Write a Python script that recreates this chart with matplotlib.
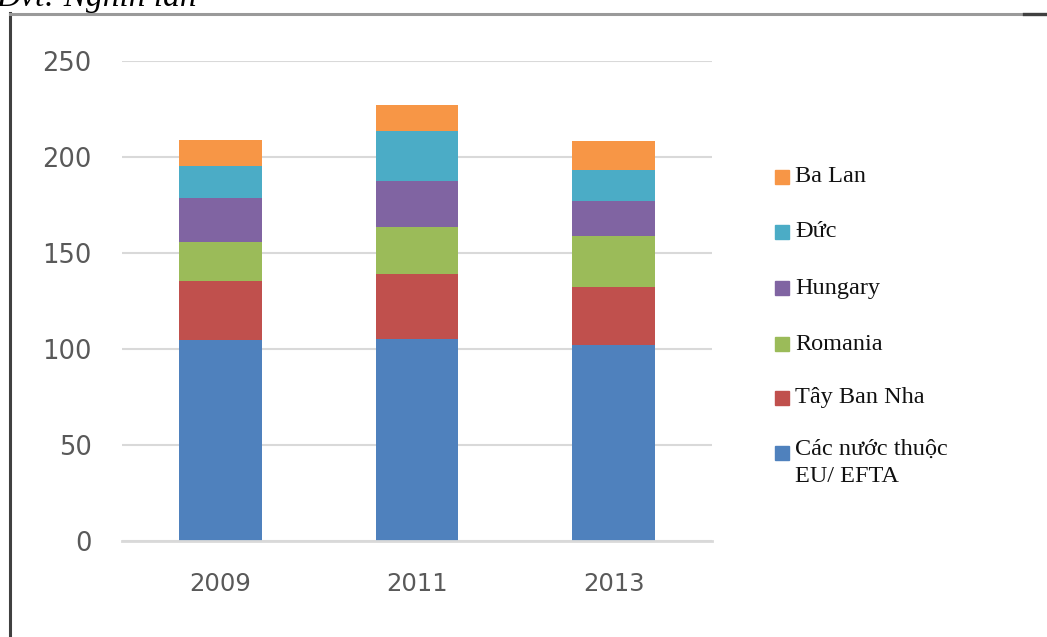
import matplotlib
matplotlib.use("Agg")
import matplotlib.pyplot as plt
import numpy as np
from matplotlib.lines import Line2D

years = ["2009", "2011", "2013"]
series_names = ["Các nước thuộc\nEU/ EFTA", "Tây Ban Nha", "Romania", "Hungary", "Đức", "Ba Lan"]
eu_efta = [104.7, 105.0, 102.0]
tay_ban_nha = [30.9, 34.0, 30.1]
romania = [20.3, 24.7, 26.8]
hungary = [22.6, 24.0, 18.2]
duc = [16.8, 26.0, 16.1]
ba_lan = [13.6, 13.3, 15.1]
colors = ["#4F81BD", "#C0504D", "#9BBB59", "#8064A2", "#4BACC6", "#F79646"]
yticks = [0, 50, 100, 150, 200, 250]

W, H = 1047, 637
fig = plt.figure(figsize=(W / 100, H / 100), dpi=100)

def fx(px):
    return px / W

def fy(py):
    return 1 - py / H

ax = fig.add_axes([fx(122), fy(541), fx(712) - fx(122), fy(61) - fy(541)])

data = [eu_efta, tay_ban_nha, romania, hungary, duc, ba_lan]
x = np.arange(len(years))
bottom = np.zeros(len(years))
for vals, c, name in zip(data, colors, series_names):
    ax.bar(x, vals, width=0.42, bottom=bottom, color=c, label=name, zorder=3)
    bottom += np.array(vals)

ax.set_xlim(-0.5, 2.5)
ax.set_ylim(0, 250)
ax.set_yticks(yticks)
ax.set_xticks(x)
ax.set_xticklabels(years)
ax.yaxis.grid(True, color="#D9D9D9", linewidth=1.5, zorder=0)
for s in ["top", "right", "left"]:
    ax.spines[s].set_visible(False)
ax.spines["bottom"].set_color("#D9D9D9")
ax.spines["bottom"].set_linewidth(2)
ax.spines["bottom"].set_zorder(4)
ax.tick_params(axis="both", length=0, colors="#595959")
ax.tick_params(axis="y", pad=22, labelsize=18.5)
ax.tick_params(axis="x", pad=22, labelsize=17.5)

# Legend (manual, to match position of reference)
leg_y = [453, 398, 344, 288, 232, 177]
for name, c, py in zip(series_names, colors, leg_y):
    fig.add_artist(Line2D([fx(782)], [fy(py)], marker="s", markersize=10,
                          color=c, linestyle="none", transform=fig.transFigure))
    if "\n" in name:
        fig.text(fx(795), fy(py - 14), name, fontsize=17.5, family="Liberation Serif",
                 color="#111111", va="top", linespacing=1.35)
    else:
        fig.text(fx(795), fy(py), name, fontsize=17.5, family="Liberation Serif",
                 color="#111111", va="center")

# Title partially cut at the top edge (as in the reference)
fig.text(fx(-4), fy(6), "Đvt: Nghìn lần", fontsize=24, family="Liberation Serif",
         style="italic", va="baseline", ha="left", color="black")

# Border
fig.add_artist(Line2D([fx(10), fx(10)], [fy(13), fy(640)], color="#404040",
                      linewidth=2.2, transform=fig.transFigure))
fig.add_artist(Line2D([fx(10), fx(1047)], [fy(14), fy(14)], color="#9a9a9a",
                      linewidth=2.2, transform=fig.transFigure))
fig.add_artist(Line2D([fx(1024), fx(1047)], [fy(14), fy(14)], color="#404040",
                      linewidth=2.4, transform=fig.transFigure))

fig.savefig("out.png", dpi=100)
